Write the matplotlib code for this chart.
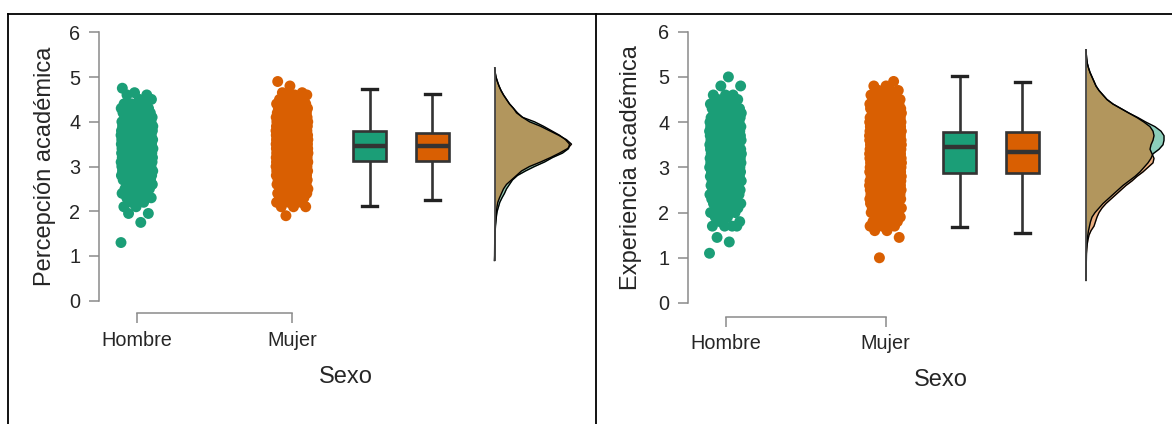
import numpy as np
import matplotlib
matplotlib.use("Agg")
import matplotlib.pyplot as plt
from matplotlib.lines import Line2D

plt.rcParams['font.family'] = ['Liberation Sans', 'DejaVu Sans']

# ---------------- data ----------------
groups = ["Hombre", "Mujer"]
x_title = "Sexo"
y_titles = ["Percepción académica", "Experiencia académica"]
y_ticks = [0, 1, 2, 3, 4, 5, 6]
colors = ["#1B9E77", "#D95F02"]

# individual observations (value, count)
p1_h_vals = [1.3, 1.75, 1.95, 2.1, 2.2, 2.3, 2.4, 2.5, 2.6, 2.7, 2.8, 2.9, 3.0, 3.1, 3.2, 3.3,
             3.4, 3.5, 3.6, 3.7, 3.8, 3.9, 4.0, 4.1, 4.2, 4.3, 4.4, 4.5, 4.6, 4.65, 4.75]
p1_h_cnts = [1, 1, 2, 2, 2, 3, 4, 5, 6, 8, 10, 13, 17, 20, 23, 26,
             28, 28, 27, 24, 21, 18, 15, 10, 7, 5, 4, 2, 2, 1, 1]
p1_m_vals = [1.9, 2.1, 2.2, 2.3, 2.4, 2.5, 2.6, 2.7, 2.8, 2.9, 3.0, 3.1, 3.2, 3.3, 3.4, 3.5,
             3.6, 3.7, 3.8, 3.9, 4.0, 4.1, 4.2, 4.3, 4.4, 4.5, 4.6, 4.65, 4.8, 4.9]
p1_m_cnts = [1, 3, 4, 5, 7, 9, 12, 16, 20, 26, 34, 40, 45, 50, 53, 53,
             50, 45, 38, 32, 25, 18, 14, 10, 8, 5, 3, 2, 1, 1]
p2_h_vals = [1.1, 1.35, 1.45, 1.7, 1.8, 1.9, 2.0, 2.1, 2.2, 2.3, 2.4, 2.5, 2.6, 2.7, 2.8, 2.9,
             3.0, 3.1, 3.2, 3.3, 3.4, 3.5, 3.6, 3.7, 3.8, 3.9, 4.0, 4.1, 4.2, 4.3, 4.4, 4.5,
             4.6, 4.8, 5.0]
p2_h_cnts = [1, 1, 1, 4, 2, 2, 3, 3, 5, 6, 7, 8, 9, 10, 12, 13,
             14, 15, 16, 17, 18, 19, 20, 20, 18, 16, 13, 10, 8, 6, 5, 3,
             3, 2, 1]
p2_m_vals = [1.0, 1.45, 1.6, 1.7, 1.8, 1.9, 2.0, 2.1, 2.2, 2.3, 2.4, 2.5, 2.6, 2.7, 2.8, 2.9,
             3.0, 3.1, 3.2, 3.3, 3.4, 3.5, 3.6, 3.7, 3.8, 3.9, 4.0, 4.1, 4.2, 4.3, 4.4, 4.5,
             4.6, 4.7, 4.8, 4.9]
p2_m_cnts = [1, 1, 2, 3, 5, 6, 8, 10, 12, 15, 18, 21, 24, 27, 30, 33,
             36, 38, 38, 36, 36, 37, 38, 38, 36, 32, 28, 22, 18, 14, 10, 7,
             5, 3, 2, 1]

# box plot statistics [Hombre, Mujer]
p1_box_lo = [2.12, 2.24]
p1_box_q1 = [3.12, 3.12]
p1_box_med = [3.46, 3.46]
p1_box_q3 = [3.79, 3.74]
p1_box_hi = [4.73, 4.62]
p2_box_lo = [1.67, 1.55]
p2_box_q1 = [2.88, 2.88]
p2_box_med = [3.44, 3.34]
p2_box_q3 = [3.79, 3.79]
p2_box_hi = [5.02, 4.89]

# density estimates (arbitrary units) on a value grid
p1_dens_grid = [0.9, 1.0, 1.1, 1.2, 1.3, 1.4, 1.5, 1.6, 1.7, 1.8, 1.9, 2.0, 2.1, 2.2, 2.3,
                2.4, 2.5, 2.6, 2.7, 2.8, 2.9, 3.0, 3.1, 3.2, 3.3, 3.4, 3.5, 3.6, 3.7, 3.8,
                3.9, 4.0, 4.1, 4.2, 4.3, 4.4, 4.5, 4.6, 4.7, 4.8, 4.9, 5.0, 5.1, 5.2]
p1_dens_h = [0, 0.2, 0.3, 0.4, 0.5, 0.5, 0.6, 0.8, 1.1, 1.5, 2.0, 2.7, 4.0, 5.3, 7.5,
             10, 12, 15, 18, 23, 31, 40, 50, 58, 68, 74, 75, 71, 65, 57,
             49, 40, 28, 23, 19, 15, 12, 9, 6.5, 4.5, 2.8, 1.5, 0.7, 0.2]
p1_dens_m = [0, 0.05, 0.1, 0.15, 0.2, 0.3, 0.4, 0.6, 0.9, 1.2, 1.6, 2.0, 2.5, 3.3, 5,
             7, 9, 12, 17, 22, 27, 35, 46, 56, 65, 73, 77, 72, 64, 55,
             46, 35, 28, 22, 19, 15, 12, 9, 6.5, 4.5, 3, 1.5, 0.7, 0.2]
p2_dens_grid = [0.5, 0.6, 0.7, 0.8, 0.9, 1.0, 1.1, 1.2, 1.3, 1.4, 1.5, 1.6, 1.7, 1.8, 1.9,
                2.0, 2.1, 2.2, 2.3, 2.4, 2.5, 2.6, 2.7, 2.8, 2.9, 3.0, 3.1, 3.2, 3.3, 3.4,
                3.5, 3.6, 3.7, 3.8, 3.9, 4.0, 4.1, 4.2, 4.3, 4.4, 4.5, 4.6, 4.7, 4.8, 4.9,
                5.0, 5.1, 5.2, 5.3, 5.4, 5.5, 5.6]
p2_dens_h = [0, 0.05, 0.1, 0.15, 0.2, 0.25, 0.35, 0.5, 0.8, 1.2, 1.8, 2.5, 3.5, 4.5, 6,
             9, 13, 17, 22, 27, 32, 37, 43, 49, 54, 58, 62, 65, 67, 73,
             77, 78, 78, 75, 69, 60, 52, 43, 35, 27, 21, 17, 13, 10, 8,
             6, 4, 2.5, 1.3, 0.7, 0.3, 0]
p2_dens_m = [0, 0.05, 0.1, 0.2, 0.3, 0.4, 0.5, 0.8, 1.2, 2, 3, 5, 8, 9.5, 11,
             13, 16, 20, 25, 30, 35, 40, 46, 51, 57, 62, 67, 68, 66, 64,
             65, 67, 68, 67, 64, 58, 51, 43, 35, 27, 21, 17, 13, 10, 8,
             6, 4, 2.5, 1.3, 0.7, 0.3, 0]

panels = [
    dict(vals=[p1_h_vals, p1_m_vals], cnts=[p1_h_cnts, p1_m_cnts],
         box=(p1_box_lo, p1_box_q1, p1_box_med, p1_box_q3, p1_box_hi),
         grid=p1_dens_grid, dens=[p1_dens_h, p1_dens_m], ylab=y_titles[0]),
    dict(vals=[p2_h_vals, p2_m_vals], cnts=[p2_h_cnts, p2_m_cnts],
         box=(p2_box_lo, p2_box_q1, p2_box_med, p2_box_q3, p2_box_hi),
         grid=p2_dens_grid, dens=[p2_dens_h, p2_dens_m], ylab=y_titles[1]),
]

# ---------------- layout (pixels) ----------------
W, H = 1172, 424
layouts = [
    dict(left=99, right=590, y0=300.7, y6=32.3, g=(137, 292), box=(369.7, 432.3),
         dbase=494.5, dmax=77, spine_off=12.5, jit=16, boxw=33, capw=15,
         ylab_x=45, xlab=(346, 377)),
    dict(left=688, right=1172, y0=303, y6=31.7, g=(725.5, 885.5), box=(959.7, 1022.3),
         dbase=1086, dmax=78, spine_off=14, jit=16, boxw=33, capw=15,
         ylab_x=631, xlab=(941, 380)),
]

fig = plt.figure(figsize=(W / 100, H / 100), dpi=100)
axis_grey = "#8a8a8a"
text_col = "#262626"
dark = "#333333"
golden = 0.6180339887

for P, L in zip(panels, layouts):
    ax = fig.add_axes([L['left'] / W, (H - L['y0']) / H,
                       (L['right'] - L['left']) / W, (L['y0'] - L['y6']) / H])
    g0, g1 = L['g']
    u = g1 - g0  # pixels per category unit
    to_x = lambda px: 1 + (px - g0) / u
    ax.set_xlim(to_x(L['left']), to_x(L['right']))
    ax.set_ylim(0, 6)

    cat_pos = [1, 2]
    # jittered points
    for k in range(2):
        y = np.repeat(np.array(P['vals'][k], float), P['cnts'][k])
        idx = np.arange(len(y))
        off = (np.mod(idx * golden + 0.31 * k, 1.0) * 2 - 1) * (L['jit'] / u)
        ax.scatter(cat_pos[k] + off, y, s=62, color=colors[k], edgecolors='none',
                   zorder=2, clip_on=False)

    # box plots
    lo, q1, med, q3, hi = P['box']
    stats = [dict(whislo=lo[k], q1=q1[k], med=med[k], q3=q3[k], whishi=hi[k],
                  fliers=[], label=groups[k]) for k in range(2)]
    bpos = [to_x(p) for p in L['box']]
    bp = ax.bxp(stats, positions=bpos, widths=L['boxw'] / u, capwidths=L['capw'] / u,
                patch_artist=True, showfliers=False, manage_ticks=False,
                boxprops=dict(edgecolor=dark, linewidth=1.9),
                medianprops=dict(color=dark, linewidth=3.2, solid_capstyle='butt'),
                whiskerprops=dict(color=dark, linewidth=1.9),
                capprops=dict(color="#222222", linewidth=2.4))
    for k, patch in enumerate(bp['boxes']):
        patch.set_facecolor(colors[k])
        patch.set_zorder(3)
    for ln in bp['medians']:
        ln.set_zorder(4)

    # densities (half violins)
    grid = np.array(P['grid'], float)
    dens = [np.array(d, float) for d in P['dens']]
    base = to_x(L['dbase'])
    scale = (L['dmax'] / u) / max(d.max() for d in dens)
    for k in range(2):
        ax.fill_betweenx(grid, base, base + dens[k] * scale, color=colors[k],
                         alpha=0.5, linewidth=0, zorder=2)
    for k in range(2):
        ax.plot(base + dens[k] * scale, grid, color="black", linewidth=1.0, zorder=3)
    ax.plot([base, base], [grid.min(), grid.max()], color="#444444", linewidth=1.3, zorder=3)

    # axes styling
    for s in ['top', 'right']:
        ax.spines[s].set_visible(False)
    ax.spines['left'].set_bounds(0, 6)
    ax.spines['bottom'].set_bounds(1, 2)
    ax.spines['bottom'].set_position(('outward', L['spine_off'] * 0.72))
    for s in ['left', 'bottom']:
        ax.spines[s].set_color(axis_grey)
        ax.spines[s].set_linewidth(1.1)
    ax.set_yticks(y_ticks)
    ax.set_xticks(cat_pos)
    ax.set_xticklabels(groups)
    ax.tick_params(axis='both', colors=axis_grey, labelcolor=text_col, labelsize=14.3,
                   length=7.5, width=1.1)
    ax.tick_params(axis='y', pad=6)
    ax.tick_params(axis='x', pad=5)
    ax.patch.set_visible(False)

    ax.set_ylabel(P['ylab'], fontsize=17, color=text_col)
    ax.yaxis.label.set_verticalalignment('center')
    ax.yaxis.set_label_coords((L['ylab_x'] - L['left']) / (L['right'] - L['left']),
                              (L['y0'] - (L['y0'] + L['y6']) / 2) / (L['y0'] - L['y6']))
    ax.set_xlabel(x_title, fontsize=17, color=text_col)
    ax.xaxis.label.set_verticalalignment('center')
    ax.xaxis.set_label_coords((L['xlab'][0] - L['left']) / (L['right'] - L['left']),
                              -(L['xlab'][1] - L['y0']) / (L['y0'] - L['y6']))

# table-like borders
def hline(y, x0, x1):
    fig.add_artist(Line2D([x0 / W, x1 / W], [1 - y / H, 1 - y / H], color='black',
                          linewidth=1.3, transform=fig.transFigure))

def vline(x, y0, y1):
    fig.add_artist(Line2D([x / W, x / W], [1 - y0 / H, 1 - y1 / H], color='black',
                          linewidth=1.3, transform=fig.transFigure))

hline(14, 7.5, W)
vline(7.5, 14, H)
vline(595.5, 14, H)

fig.savefig("out.png", dpi=100)
